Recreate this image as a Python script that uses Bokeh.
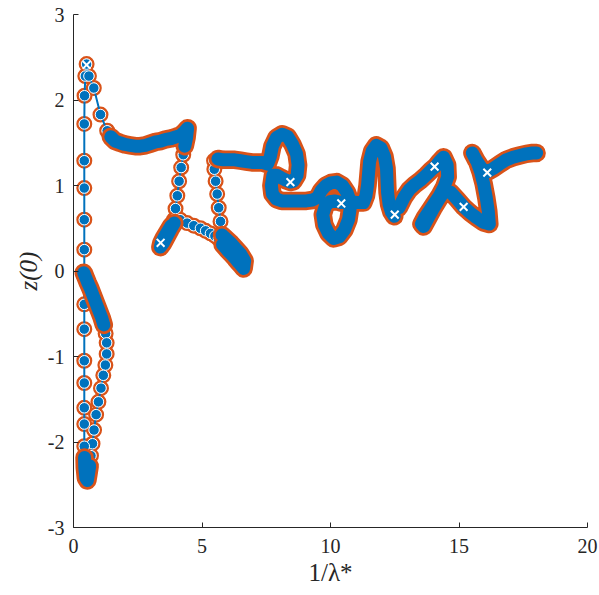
from bokeh.plotting import figure
from bokeh.models import Range1d, FixedTicker, ColumnDataSource
from bokeh.embed import file_html
from bokeh.resources import INLINE

# Continuation path (1/lambda*, z(0)), listed segment by segment in path order.
# Segments marked dense are sampled so finely that their markers merge into a band.
arc_top_x = [0.40, 0.48, 0.56, 0.65, 0.74, 0.83, 0.92, 1.01, 1.10, 1.18]
arc_top_y = [-0.02, -0.08, -0.14, -0.20, -0.27, -0.34, -0.41, -0.48, -0.55, -0.63]

arc_low_x = [1.25, 1.29, 1.29, 1.24, 1.16, 1.07, 0.97, 0.88, 0.80, 0.74, 0.68]
arc_low_y = [-0.73, -0.84, -0.97, -1.10, -1.22, -1.37, -1.53, -1.68, -1.86, -2.02, -2.16]

foot_x = [0.63, 0.58, 0.54, 0.48, 0.44, 0.43]
foot_y = [-2.28, -2.38, -2.45, -2.42, -2.30, -2.18]

column_x = [0.42, 0.42, 0.42, 0.42, 0.42, 0.42, 0.42, 0.42, 0.42, 0.42, 0.42, 0.42,
            0.42, 0.43, 0.46, 0.51, 0.60, 0.79, 1.05, 1.31]
column_y = [-2.05, -1.79, -1.60, -1.31, -1.05, -0.68, -0.39, -0.06, 0.25, 0.60, 0.97, 1.29,
            1.72, 2.05, 2.28, 2.42, 2.28, 2.14, 1.83, 1.64]

shelf_x = [1.45, 1.62, 1.80, 2.00, 2.20, 2.40, 2.60, 2.80, 3.00, 3.20, 3.40, 3.60, 3.80,
           4.00, 4.18, 4.32, 4.44, 4.40, 4.33]
shelf_y = [1.57, 1.52, 1.50, 1.48, 1.47, 1.46, 1.46, 1.47, 1.49, 1.51, 1.52, 1.54, 1.55,
           1.57, 1.59, 1.63, 1.67, 1.56, 1.46]

drop_x = [4.27, 4.19, 4.11, 4.04, 3.97, 3.91]
drop_y = [1.36, 1.21, 1.05, 0.88, 0.73, 0.60]

hook_x = [3.80, 3.66, 3.52, 3.42, 3.38, 3.50, 3.64, 3.78, 3.92]
hook_y = [0.53, 0.46, 0.39, 0.33, 0.28, 0.33, 0.41, 0.49, 0.56]

ledge_x = [4.15, 4.42, 4.68, 4.94, 5.14, 5.33, 5.50, 5.64]
ledge_y = [0.60, 0.56, 0.53, 0.50, 0.47, 0.44, 0.41, 0.38]

dip_x = [5.80, 5.97, 6.13, 6.28, 6.42, 6.54, 6.62, 6.66, 6.50, 6.32, 6.14, 5.96, 5.78]
dip_y = [0.31, 0.25, 0.20, 0.15, 0.10, 0.06, 0.03, 0.12, 0.20, 0.26, 0.32, 0.37, 0.42]

rise_x = [5.72, 5.65, 5.59, 5.53, 5.48, 5.47]
rise_y = [0.58, 0.74, 0.90, 1.05, 1.19, 1.29]

upper_x = [5.62, 5.84, 6.06, 6.28, 6.50, 6.72, 6.94, 7.14, 7.34, 7.55, 7.66, 7.74, 7.90, 8.12,
           8.34, 8.52, 8.68, 8.74, 8.70, 8.56, 8.44, 8.28, 8.08, 7.90, 7.76, 7.70, 7.74, 7.90,
           8.10, 8.34, 8.58, 8.82, 9.06, 9.30, 9.50,
           9.64, 9.82, 10.02, 10.24, 10.46, 10.64, 10.74, 10.76, 10.70, 10.54, 10.34, 10.12,
           9.92, 9.76, 9.70, 9.80, 9.98, 10.18, 10.42, 10.62, 10.84, 11.06, 11.28,
           11.38, 11.44, 11.48, 11.52, 11.62, 11.78, 11.96, 12.10, 12.18, 12.20, 12.22, 12.28,
           12.37, 12.48]
upper_y = [1.31, 1.30, 1.30, 1.30, 1.29, 1.28, 1.27, 1.27, 1.27, 1.25, 1.34, 1.46, 1.56, 1.60,
           1.57, 1.48, 1.37, 1.24, 1.12, 1.05, 1.04, 1.06, 1.09, 1.12, 1.12, 1.00, 0.90, 0.84,
           0.82, 0.82, 0.82, 0.82, 0.82, 0.83, 0.86,
           0.94, 1.00, 1.03, 1.04, 1.00, 0.92, 0.84, 0.72, 0.60, 0.48, 0.40, 0.38,
           0.44, 0.54, 0.66, 0.76, 0.81, 0.82, 0.80, 0.80, 0.81, 0.80, 0.80,
           0.88, 1.00, 1.14, 1.28, 1.40, 1.47, 1.44, 1.34, 1.20, 1.06, 0.92, 0.78,
           0.69, 0.64]

tail_x = [12.66, 12.86, 13.06, 13.28, 13.50, 13.72, 13.92, 14.08, 14.24, 14.40, 14.54, 14.56,
          14.42, 14.24, 14.04, 13.84, 13.66, 13.54, 13.62, 13.80, 14.00, 14.22, 14.44, 14.68,
          14.92, 15.18, 15.44, 15.70, 15.94, 16.18, 16.14, 16.06, 15.96, 15.84, 15.70, 15.52,
          15.66, 15.88, 16.10, 16.34, 16.58, 16.84, 17.10, 17.36, 17.62, 17.86, 18.02]
tail_y = [0.74, 0.86, 0.95, 1.01, 1.06, 1.12, 1.18, 1.22, 1.28, 1.33, 1.24, 1.10,
          0.98, 0.88, 0.79, 0.70, 0.62, 0.55, 0.52, 0.62, 0.73, 0.84, 0.94, 0.92,
          0.84, 0.75, 0.68, 0.62, 0.57, 0.55, 0.70, 0.86, 1.02, 1.16, 1.28, 1.38,
          1.30, 1.20, 1.16, 1.20, 1.25, 1.30, 1.33, 1.35, 1.37, 1.38, 1.38]

# Marked points along the path
cross_x = [0.51, 3.39, 8.44, 10.42, 12.50, 14.05, 15.18, 16.10]
cross_y = [2.41, 0.33, 1.04, 0.79, 0.66, 1.22, 0.75, 1.15]

x_ticks = [0, 5, 10, 15, 20]
y_ticks = [-3, -2, -1, 0, 1, 2, 3]

segments = [
    (arc_top_x, arc_top_y, True),
    (arc_low_x, arc_low_y, False),
    (foot_x, foot_y, True),
    (column_x, column_y, False),
    (shelf_x, shelf_y, True),
    (drop_x, drop_y, False),
    (hook_x, hook_y, True),
    (ledge_x, ledge_y, False),
    (dip_x, dip_y, True),
    (rise_x, rise_y, False),
    (upper_x, upper_y, True),
    (tail_x, tail_y, True),
]

path_x, path_y = [], []
for sx, sy, _ in segments:
    path_x += sx
    path_y += sy
src = ColumnDataSource(dict(x=path_x, y=path_y))

BLUE = "#0072BD"
ORANGE = "#D95319"
INK = "#262626"
FONT = "Liberation Serif"

p = figure(width=599, height=595, output_backend="svg", toolbar_location=None,
           x_range=Range1d(0, 20), y_range=Range1d(-3, 3),
           min_border_left=73, min_border_right=12, min_border_top=14, min_border_bottom=68)
p.outline_line_color = None
p.xgrid.visible = False
p.ygrid.visible = False
p.background_fill_color = "white"
p.border_fill_color = "white"

# markers: orange ring, blue disc with a thin white rim, joined by the blue line
p.scatter("x", "y", source=src, marker="circle", size=13.5, fill_color=None,
          line_color=ORANGE, line_width=2.5)
p.line("x", "y", source=src, line_color=BLUE, line_width=2)
p.scatter("x", "y", source=src, marker="circle", size=10.5, fill_color=BLUE,
          line_color="white", line_width=1)

# densely sampled stretches, where the overlapping markers fuse into a band
for sx, sy, dense in segments:
    if dense:
        p.line(sx, sy, line_color=ORANGE, line_width=18.5, line_join="round", line_cap="round")
for sx, sy, dense in segments:
    if dense:
        p.line(sx, sy, line_color=BLUE, line_width=13, line_join="round", line_cap="round")

p.scatter(cross_x, cross_y, marker="x", size=11, line_color="white", line_width=2)

for ax, ticks in ((p.xaxis[0], x_ticks), (p.yaxis[0], y_ticks)):
    ax.ticker = FixedTicker(ticks=ticks)
    ax.major_label_overrides = {t: str(t) for t in ticks}
    ax.minor_tick_line_color = None
    ax.major_tick_in = 5
    ax.major_tick_out = 0
    ax.axis_line_color = INK
    ax.major_tick_line_color = INK
    ax.major_label_text_font = FONT
    ax.major_label_text_font_size = "20px"
    ax.major_label_text_color = INK
    ax.axis_label_text_font = FONT
    ax.axis_label_text_font_size = "25px"
    ax.axis_label_text_color = INK
p.xaxis.major_label_standoff = 11
p.yaxis.major_label_standoff = 9
p.xaxis.axis_label = "1/λ*"
p.xaxis.axis_label_text_font_style = "normal"
p.xaxis.axis_label_standoff = 3
p.yaxis.axis_label = "z(0)"
p.yaxis.axis_label_text_font_style = "italic"
p.yaxis.axis_label_standoff = 3

open("out.html", "w").write(file_html(p, INLINE))
